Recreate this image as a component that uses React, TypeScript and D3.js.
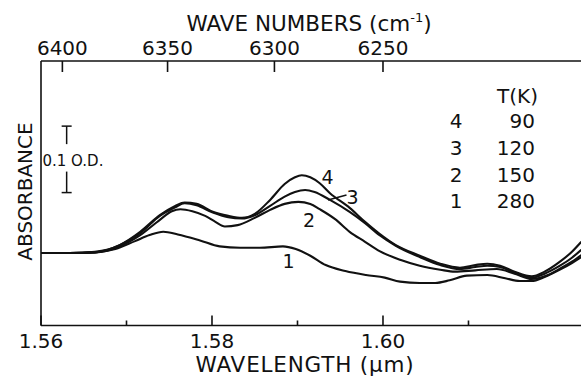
import React from "react";
import * as d3 from "d3";

// ---- data (wavelength in µm, absorbance in O.D.) ----
const lambda4 = [1.5600, 1.5634, 1.5663, 1.5692, 1.5716, 1.5739, 1.5757, 1.5768, 1.5782, 1.5801, 1.5819, 1.5835, 1.5850, 1.5868, 1.5885, 1.5897, 1.5905, 1.5915, 1.5926, 1.5938, 1.5961, 1.5979, 1.5996, 1.6015, 1.6043, 1.6067, 1.6090, 1.6108, 1.6122, 1.6137, 1.6154, 1.6174, 1.6189, 1.6207, 1.6221, 1.6232];
const abs4 = [0.109, 0.109, 0.111, 0.121, 0.141, 0.166, 0.180, 0.185, 0.183, 0.171, 0.165, 0.162, 0.168, 0.189, 0.213, 0.223, 0.226, 0.223, 0.214, 0.199, 0.177, 0.156, 0.138, 0.121, 0.105, 0.093, 0.087, 0.091, 0.093, 0.090, 0.081, 0.074, 0.081, 0.096, 0.111, 0.126];

const lambda3 = [1.5600, 1.5634, 1.5663, 1.5692, 1.5716, 1.5739, 1.5757, 1.5768, 1.5782, 1.5801, 1.5819, 1.5835, 1.5850, 1.5868, 1.5885, 1.5897, 1.5909, 1.5920, 1.5938, 1.5961, 1.5979, 1.5996, 1.6015, 1.6043, 1.6067, 1.6090, 1.6108, 1.6122, 1.6137, 1.6154, 1.6174, 1.6189, 1.6207, 1.6221, 1.6232];
const abs3 = [0.109, 0.109, 0.110, 0.121, 0.139, 0.165, 0.178, 0.184, 0.181, 0.170, 0.163, 0.161, 0.166, 0.180, 0.194, 0.201, 0.204, 0.201, 0.189, 0.171, 0.154, 0.136, 0.120, 0.103, 0.091, 0.085, 0.088, 0.090, 0.088, 0.079, 0.072, 0.078, 0.090, 0.102, 0.114];

const lambda2 = [1.5600, 1.5634, 1.5663, 1.5692, 1.5716, 1.5739, 1.5753, 1.5763, 1.5777, 1.5792, 1.5804, 1.5815, 1.5830, 1.5850, 1.5868, 1.5885, 1.5901, 1.5915, 1.5926, 1.5944, 1.5961, 1.5979, 1.5996, 1.6020, 1.6043, 1.6067, 1.6084, 1.6108, 1.6133, 1.6154, 1.6174, 1.6193, 1.6209, 1.6221, 1.6232];
const abs2 = [0.109, 0.109, 0.110, 0.119, 0.136, 0.159, 0.172, 0.175, 0.172, 0.165, 0.156, 0.149, 0.151, 0.162, 0.174, 0.183, 0.186, 0.183, 0.175, 0.160, 0.141, 0.126, 0.112, 0.099, 0.090, 0.084, 0.081, 0.083, 0.085, 0.078, 0.070, 0.076, 0.087, 0.096, 0.106];

const lambda1 = [1.5600, 1.5634, 1.5663, 1.5687, 1.5710, 1.5727, 1.5743, 1.5760, 1.5786, 1.5809, 1.5833, 1.5856, 1.5883, 1.5898, 1.5915, 1.5933, 1.5956, 1.5980, 1.6002, 1.6020, 1.6043, 1.6061, 1.6078, 1.6098, 1.6122, 1.6143, 1.6160, 1.6174, 1.6189, 1.6207, 1.6221, 1.6232];
const abs1 = [0.109, 0.109, 0.110, 0.115, 0.127, 0.136, 0.141, 0.137, 0.128, 0.119, 0.117, 0.117, 0.119, 0.115, 0.105, 0.091, 0.082, 0.076, 0.072, 0.066, 0.064, 0.064, 0.068, 0.075, 0.076, 0.071, 0.067, 0.067, 0.073, 0.084, 0.094, 0.103];

const curveIds = ["1", "2", "3", "4"];
const temperatures = ["280", "150", "120", "90"];

const wlTicks = [1.56, 1.58, 1.60];
const wlMinorTicks = [1.57, 1.59, 1.61];
const wnTicks = [6400, 6350, 6300, 6250];

const scaleBarAbs = [0.2, 0.3];
const scaleBarLambda = 1.5630;

const W = 581;
const H = 376;
const FONT = "'DejaVu Sans', sans-serif";

export default function App() {
  const x = d3.scaleLinear().domain([1.56, 1.62316]).range([41, 581]);
  const y = d3.scaleLinear().domain([0, 0.398]).range([325.5, 61]);
  const top = y.range()[1];
  const bottom = y.range()[0];
  const left = x.range()[0];
  const right = x.range()[1];

  const line = d3
    .line<[number, number]>()
    .x((d) => x(d[0]))
    .y((d) => y(d[1]))
    .curve(d3.curveMonotoneX);

  const series = [
    { id: "1", l: lambda1, a: abs1 },
    { id: "2", l: lambda2, a: abs2 },
    { id: "3", l: lambda3, a: abs3 },
    { id: "4", l: lambda4, a: abs4 },
  ];

  const legendY = [128, 155, 181.7, 208];
  const sbx = x(scaleBarLambda);

  return (
    <svg width={W} height={H} style={{ display: "block", position: "absolute", left: 0, top: 0, background: "#fff" }}>
      <defs>
        <clipPath id="plot">
          <rect x={left} y={top} width={right - left} height={bottom - top} />
        </clipPath>
      </defs>
      <rect x={0} y={0} width={W} height={H} fill="#fff" />
      {/* frame */}
      <g stroke="#111" strokeWidth={1.6} fill="none">
        <line x1={left} y1={top} x2={right} y2={top} />
        <line x1={left} y1={bottom} x2={right} y2={bottom} />
        <line x1={left} y1={top} x2={left} y2={bottom} />
        {wlTicks.map((t) => (
          <line key={"M" + t} x1={x(t)} x2={x(t)} y1={bottom} y2={bottom - 10} />
        ))}
        {wlMinorTicks.map((t) => (
          <line key={"m" + t} x1={x(t)} x2={x(t)} y1={bottom} y2={bottom - 5} />
        ))}
        {wnTicks.map((t) => (
          <line key={"w" + t} x1={x(1e4 / t)} x2={x(1e4 / t)} y1={top} y2={top + 11} />
        ))}
      </g>
      {/* tick labels */}
      <g fontFamily={FONT} fontSize={20} fill="#111" textAnchor="middle">
        {wlTicks.map((t) => (
          <text key={"tl" + t} x={x(t)} y={348}>
            {t.toFixed(2)}
          </text>
        ))}
        {wnTicks.map((t) => (
          <text key={"tw" + t} x={x(1e4 / t)} y={55}>
            {t}
          </text>
        ))}
      </g>
      {/* axis titles */}
      <text x={309} y={31} fontFamily={FONT} fontSize={21.5} textAnchor="middle" fill="#111">
        WAVE NUMBERS (cm
        <tspan fontSize={13} dy={-9}>-1</tspan>
        <tspan dy={9}>)</tspan>
      </text>
      <text x={305} y={372} fontFamily={FONT} fontSize={21.5} letterSpacing={0.8} textAnchor="middle" fill="#111">
        WAVELENGTH (μm)
      </text>
      <text
        transform={`translate(32,191.5) rotate(-90)`}
        fontFamily={FONT}
        fontSize={20}
        textAnchor="middle"
        fill="#111"
      >
        ABSORBANCE
      </text>
      {/* scale bar */}
      <g stroke="#111" strokeWidth={1.5}>
        <line x1={sbx} x2={sbx} y1={y(scaleBarAbs[1])} y2={y(scaleBarAbs[1]) + 18} />
        <line x1={sbx} x2={sbx} y1={y(scaleBarAbs[0]) - 21} y2={y(scaleBarAbs[0])} />
        <line x1={sbx - 5} x2={sbx + 5} y1={y(scaleBarAbs[1])} y2={y(scaleBarAbs[1])} />
        <line x1={sbx - 5} x2={sbx + 5} y1={y(scaleBarAbs[0])} y2={y(scaleBarAbs[0])} />
      </g>
      <text x={42.5} y={165.5} fontFamily={FONT} fontSize={15} fill="#111">
        0.1 O.D.
      </text>
      {/* curves */}
      <g clipPath="url(#plot)" fill="none" stroke="#111" strokeWidth={2.1}>
        {series.map((s) => (
          <path key={s.id} d={line(s.l.map((l, i) => [l, s.a[i]] as [number, number])) || ""} />
        ))}
      </g>
      {/* curve labels */}
      <g fontFamily={FONT} fontSize={19} fill="#111" textAnchor="middle">
        <text x={327.5} y={183.5}>{curveIds[3]}</text>
        <text x={352.5} y={203.5}>{curveIds[2]}</text>
        <text x={309} y={227}>{curveIds[1]}</text>
        <text x={288.5} y={268}>{curveIds[0]}</text>
      </g>
      <line x1={328} y1={200} x2={346.5} y2={195} stroke="#111" strokeWidth={1.4} />
      {/* legend */}
      <g fontFamily={FONT} fontSize={20} fill="#111">
        <text x={517.5} y={103} textAnchor="middle">T(K)</text>
        {[3, 2, 1, 0].map((k, i) => (
          <g key={k}>
            <text x={456} y={legendY[i]} textAnchor="middle">{curveIds[k]}</text>
            <text x={535} y={legendY[i]} textAnchor="end">{temperatures[k]}</text>
          </g>
        ))}
      </g>
    </svg>
  );
}
